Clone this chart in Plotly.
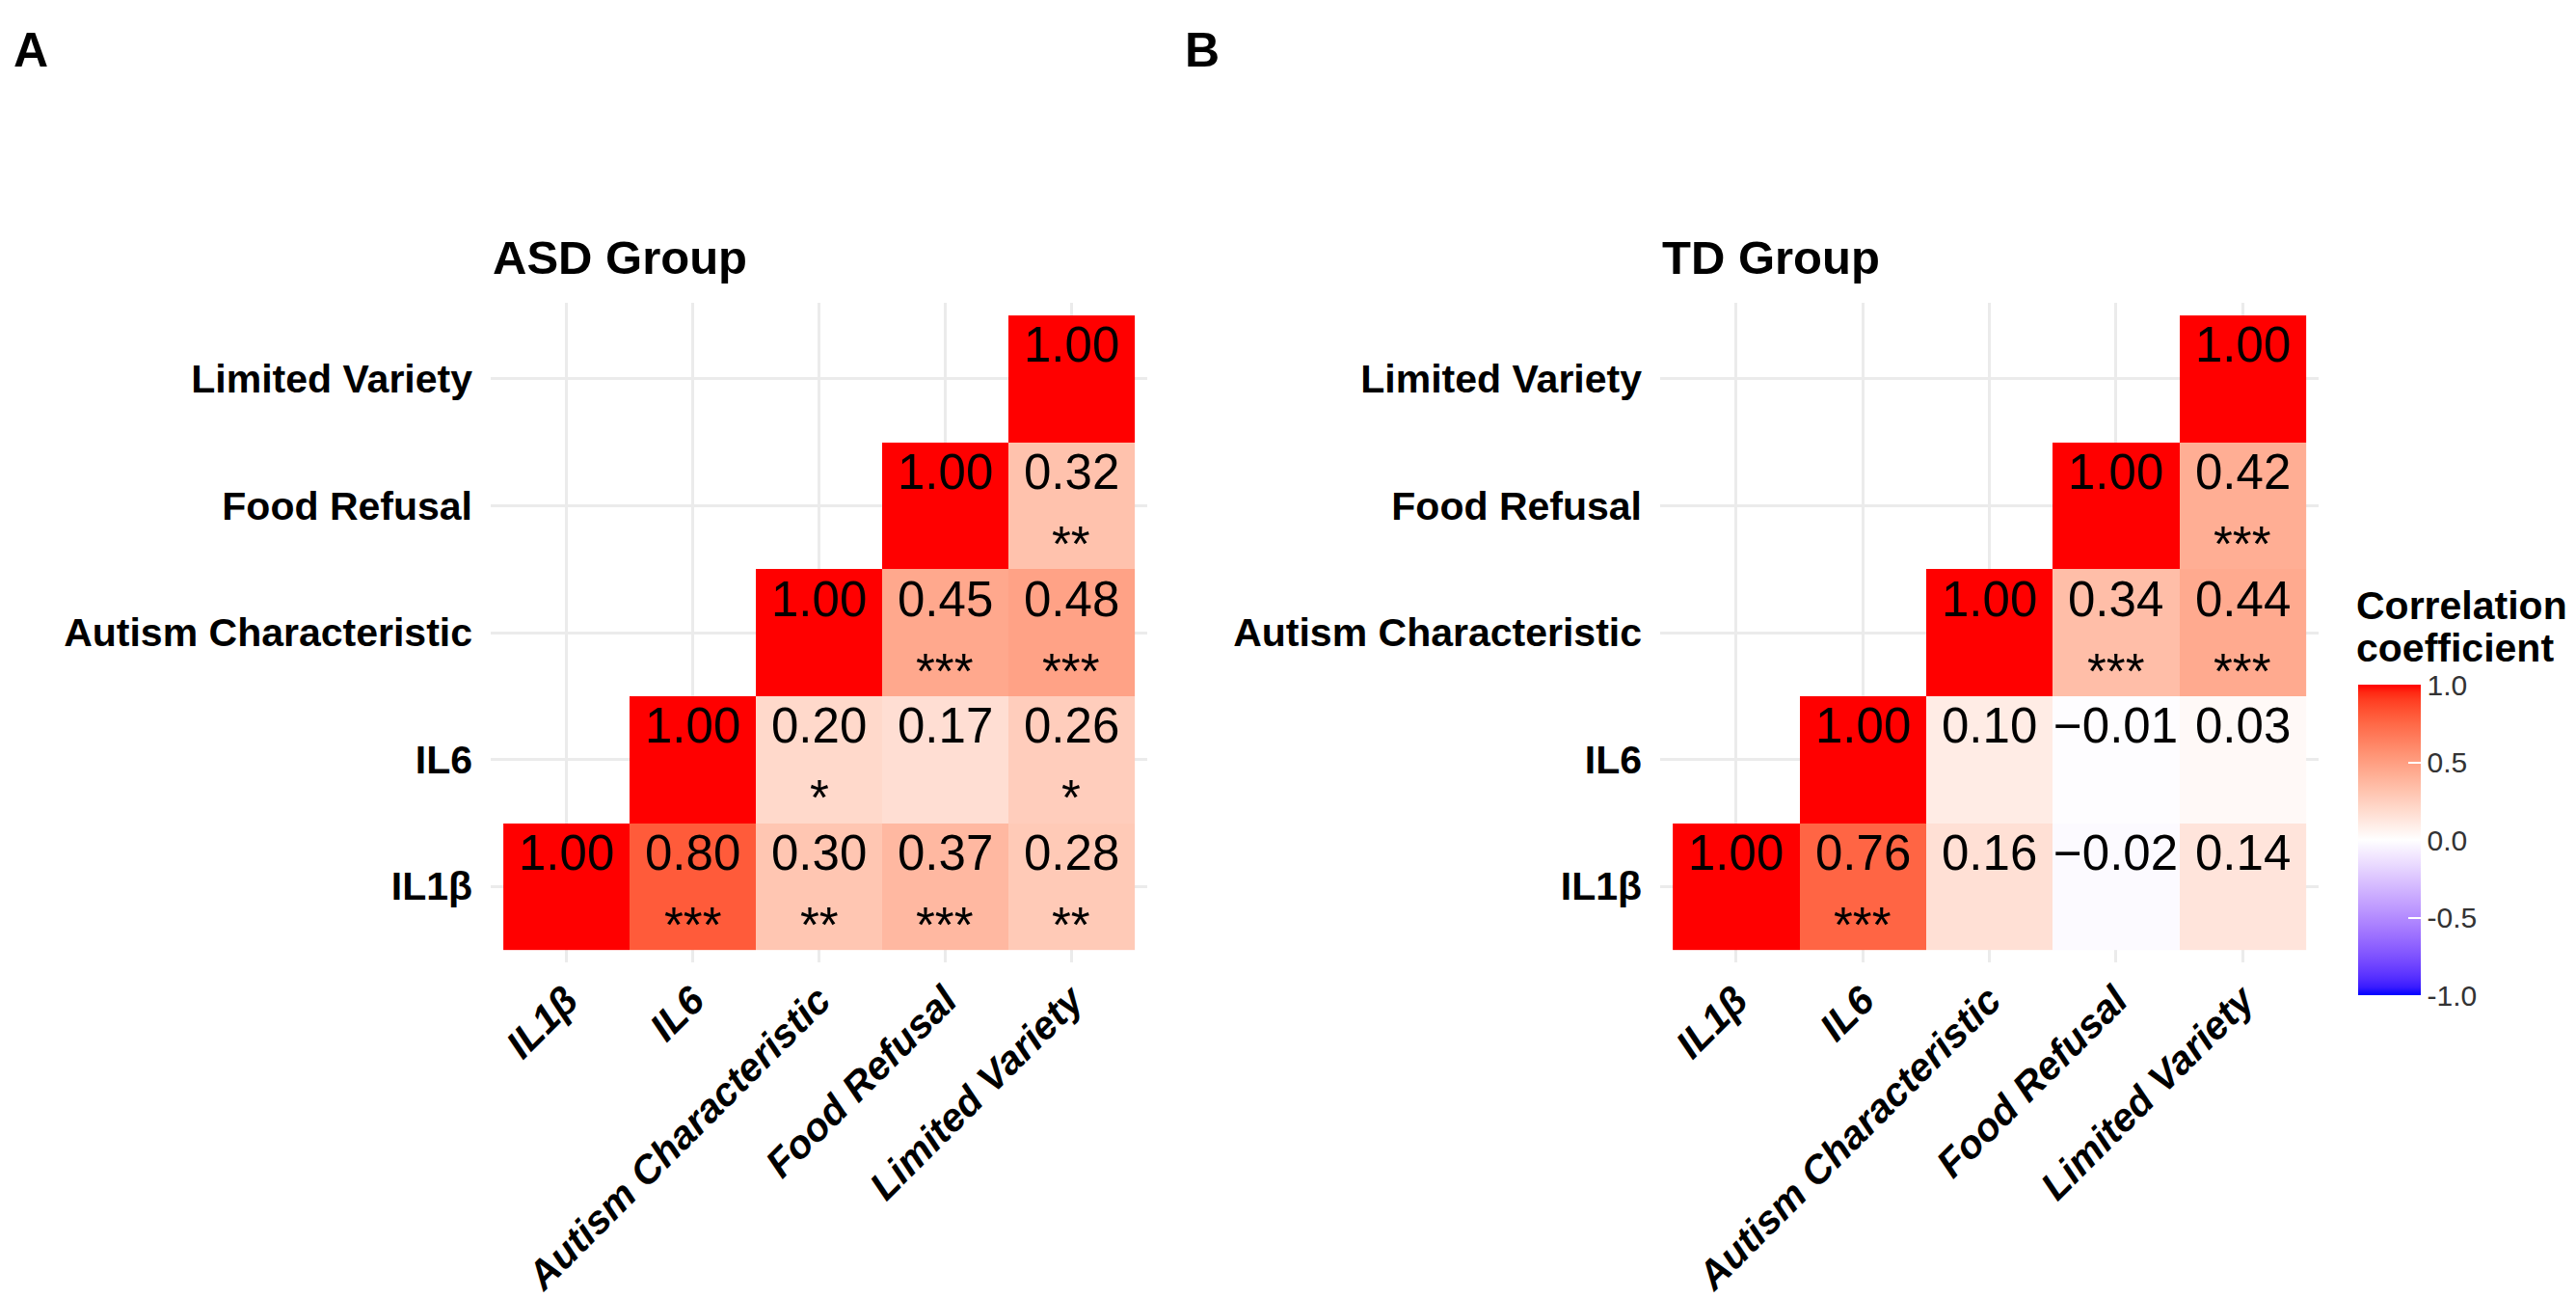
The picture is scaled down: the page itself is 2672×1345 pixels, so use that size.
import plotly.graph_objects as go

# ---------------- data ----------------
variables = ["IL1β", "IL6", "Autism Characteristic", "Food Refusal", "Limited Variety"]

# rows = y variable (bottom -> top), cols = x variable
asd_r = [
    [1.00, 0.80, 0.30, 0.37, 0.28],
    [None, 1.00, 0.20, 0.17, 0.26],
    [None, None, 1.00, 0.45, 0.48],
    [None, None, None, 1.00, 0.32],
    [None, None, None, None, 1.00],
]
asd_stars = [
    ["", "***", "**", "***", "**"],
    ["", "", "*", "", "*"],
    ["", "", "", "***", "***"],
    ["", "", "", "", "**"],
    ["", "", "", "", ""],
]
td_r = [
    [1.00, 0.76, 0.16, -0.02, 0.14],
    [None, 1.00, 0.10, -0.01, 0.03],
    [None, None, 1.00, 0.34, 0.44],
    [None, None, None, 1.00, 0.42],
    [None, None, None, None, 1.00],
]
td_stars = [
    ["", "***", "", "", ""],
    ["", "", "", "", ""],
    ["", "", "", "***", "***"],
    ["", "", "", "", "***"],
    ["", "", "", "", ""],
]
panel_titles = ["ASD Group", "TD Group"]
panel_tags = ["A", "B"]
legend_title_lines = ["Correlation", "coefficient"]
cbar_ticks = [1.0, 0.5, 0.0, -0.5, -1.0]
cbar_ticktext = ["1.0", "0.5", "0.0", "-0.5", "-1.0"]

# ------------- Lab-interpolated diverging scale (like ggplot gradient2) -------------
def _lin(c):
    c = c / 255.0
    return c / 12.92 if c <= 0.04045 else ((c + 0.055) / 1.055) ** 2.4

def _delin(c):
    c = 12.92 * c if c <= 0.0031308 else 1.055 * c ** (1 / 2.4) - 0.055
    return max(0, min(255, round(c * 255)))

WN = (0.95047, 1.0, 1.08883)

def rgb2lab(rgb):
    r, g, b = [_lin(v) for v in rgb]
    X = 0.4124564 * r + 0.3575761 * g + 0.1804375 * b
    Y = 0.2126729 * r + 0.7151522 * g + 0.0721750 * b
    Z = 0.0193339 * r + 0.1191920 * g + 0.9503041 * b
    def f(t):
        return t ** (1 / 3) if t > (6 / 29) ** 3 else t / (3 * (6 / 29) ** 2) + 4 / 29
    fx, fy, fz = f(X / WN[0]), f(Y / WN[1]), f(Z / WN[2])
    return (116 * fy - 16, 500 * (fx - fy), 200 * (fy - fz))

def lab2rgb(lab):
    L, a, b = lab
    fy = (L + 16) / 116
    fx = fy + a / 500
    fz = fy - b / 200
    def finv(t):
        return t ** 3 if t > 6 / 29 else 3 * (6 / 29) ** 2 * (t - 4 / 29)
    X, Y, Z = WN[0] * finv(fx), WN[1] * finv(fy), WN[2] * finv(fz)
    r = 3.2404542 * X - 1.5371385 * Y - 0.4985314 * Z
    g = -0.9692660 * X + 1.8760108 * Y + 0.0415560 * Z
    bb = 0.0556434 * X - 0.2040259 * Y + 1.0572252 * Z
    return "rgb(%d,%d,%d)" % (_delin(max(0, r)), _delin(max(0, g)), _delin(max(0, bb)))

low, mid, high = rgb2lab((0, 0, 255)), rgb2lab((255, 255, 255)), rgb2lab((255, 0, 0))
colorscale = []
N = 40
for k in range(N + 1):
    t = k / N
    if t <= 0.5:
        u = t / 0.5
        lab = tuple(low[i] + (mid[i] - low[i]) * u for i in range(3))
    else:
        u = (t - 0.5) / 0.5
        lab = tuple(mid[i] + (high[i] - mid[i]) * u for i in range(3))
    colorscale.append([t, lab2rgb(lab)])

# ---------------- figure ----------------
W, H = 2672, 1345
FONT = "Liberation Sans, Arial, sans-serif"
fig = go.Figure()

mats = [asd_r, td_r]
stars = [asd_stars, td_stars]
xdomains = [[501 / W, 1182 / W], [1714 / W, 2397 / W]]
ydomain = [1 - 990 / H, 1 - 306 / H]

annotations = []
for p in range(2):
    xa = "x" if p == 0 else "x2"
    ya = "y" if p == 0 else "y2"
    fig.add_trace(go.Heatmap(
        x=variables, y=variables, z=mats[p], coloraxis="coloraxis",
        xaxis=xa, yaxis=ya, hoverongaps=False, xgap=0, ygap=0,
    ))
    for i, yv in enumerate(variables):
        for j, xv in enumerate(variables):
            v = mats[p][i][j]
            if v is None:
                continue
            txt = ("%.2f" % v).replace("-", "\u2212")
            annotations.append(dict(
                x=xv, y=yv, xref=xa, yref=ya, text=txt, showarrow=False,
                yshift=35, font=dict(family=FONT, size=51, color="black"),
            ))
            s = stars[p][i][j]
            if s:
                annotations.append(dict(
                    x=xv, y=yv, xref=xa, yref=ya, text=s, showarrow=False,
                    yshift=-40, font=dict(family=FONT, size=51, color="black"),
                ))
    annotations.append(dict(
        x=xdomains[p][0], y=1 - 259 / H, xref="paper", yref="paper",
        text="<b>%s</b>" % panel_titles[p], showarrow=False,
        xanchor="left", yanchor="middle",
        font=dict(family=FONT, size=49, color="black"),
    ))

annotations.append(dict(x=4 / W, y=1 - 14 / H, xref="paper", yref="paper",
                        text="<b>A</b>", showarrow=False, xanchor="left", yanchor="top",
                        font=dict(family=FONT, size=50, color="black")))
annotations.append(dict(x=1219 / W, y=1 - 14 / H, xref="paper", yref="paper",
                        text="<b>B</b>", showarrow=False, xanchor="left", yanchor="top",
                        font=dict(family=FONT, size=50, color="black")))

# legend title (two lines, ggplot-like tight spacing)
for k, line in enumerate(legend_title_lines):
    annotations.append(dict(
        x=2434 / W, y=1 - (620 + 44 * k) / H, xref="paper", yref="paper",
        text="<b>%s</b>" % line, showarrow=False, xanchor="left", yanchor="middle",
        font=dict(family=FONT, size=41, color="black"),
    ))

axis_common = dict(
    type="category", categoryorder="array", categoryarray=variables,
    range=[-0.6, 4.6], showgrid=True, gridcolor="#EBEBEB", gridwidth=2.5,
    zeroline=False, showline=False, ticks="",
)
xfont = dict(family=FONT, size=41, color="black", weight="bold", style="italic")
yfont = dict(family=FONT, size=41, color="black", weight="bold")

fig.update_layout(
    width=W, height=H,
    margin=dict(l=0, r=0, t=0, b=0),
    paper_bgcolor="white", plot_bgcolor="white",
    showlegend=False,
    annotations=annotations,
    xaxis=dict(domain=xdomains[0], anchor="y", tickangle=-45, tickfont=xfont,
               ticklabelstandoff=6, **axis_common),
    yaxis=dict(domain=ydomain, anchor="x", tickfont=yfont, ticklabelstandoff=18, **axis_common),
    xaxis2=dict(domain=xdomains[1], anchor="y2", tickangle=-45, tickfont=xfont,
                ticklabelstandoff=6, **axis_common),
    yaxis2=dict(domain=ydomain, anchor="x2", tickfont=yfont, ticklabelstandoff=18, **axis_common),
    coloraxis=dict(
        colorscale=colorscale, cmin=-1, cmax=1,
        colorbar=dict(
            x=2438 / W, xanchor="left", xpad=0,
            y=1 - 1024 / H, yanchor="bottom", ypad=0,
            len=322, lenmode="pixels", thickness=65, thicknessmode="pixels",
            outlinewidth=0, tickvals=cbar_ticks, ticktext=cbar_ticktext,
            ticks="inside", tickcolor="white", ticklen=13, tickwidth=2,
            tickprefix=" ",
            tickfont=dict(family=FONT, size=30, color="#333333"),
        ),
    ),
)

fig.write_html("out.html")
